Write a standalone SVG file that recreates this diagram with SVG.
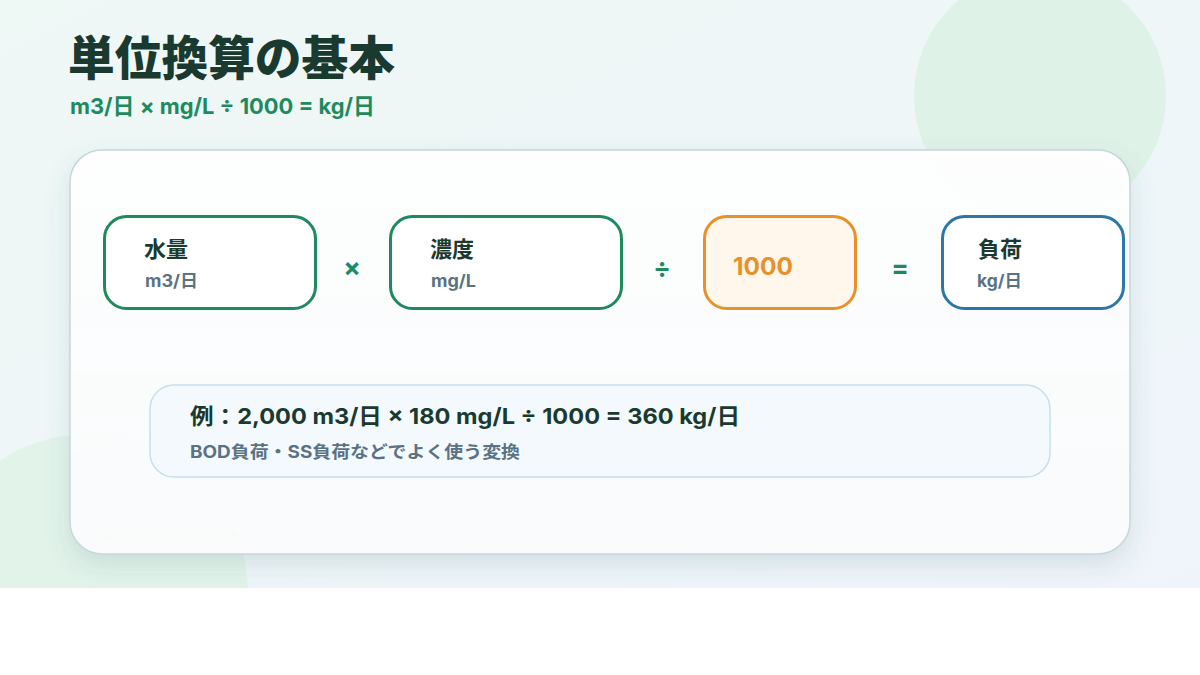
<svg xmlns="http://www.w3.org/2000/svg" width="1200" height="675" viewBox="0 0 1200 675">
<defs>
<linearGradient id="bg" x1="0" y1="0" x2="1" y2="1">
<stop offset="0" stop-color="#eef8f5"/>
<stop offset="1" stop-color="#eff4fb"/>
</linearGradient>
<linearGradient id="card" x1="0" y1="0" x2="0" y2="1">
<stop offset="0" stop-color="#ffffff" stop-opacity="0.94"/>
<stop offset="1" stop-color="#fafcfd" stop-opacity="0.96"/>
</linearGradient>
<filter id="sh" x="-10%" y="-10%" width="120%" height="130%">
<feDropShadow dx="0" dy="10" stdDeviation="12" flood-color="#3a6a70" flood-opacity="0.16"/>
</filter>
<clipPath id="bgclip"><rect x="0" y="0" width="1200" height="588"/></clipPath>
</defs>
<style>
text{font-family:Inter,"Noto Sans CJK JP",sans-serif;font-weight:700}
.t{fill:#1a3a30;font-size:22px}
.s{fill:#5a7384;font-size:17px}
.op{fill:#1e8a5e;font-size:26px;text-anchor:middle}
.g{fill:#ffffff;stroke:#1e8a5e;stroke-width:3}
</style>
<g clip-path="url(#bgclip)">
<rect x="0" y="0" width="1200" height="588" fill="url(#bg)"/>
<circle cx="1040" cy="96" r="126" fill="#dff2e8"/>
<circle cx="88" cy="594" r="160" fill="#e2f3ea"/>
</g>
<text x="68" y="75" fill="#1a3a30" style="font-size:47px;font-weight:900" textLength="327" lengthAdjust="spacingAndGlyphs">単位換算の基本</text>
<text x="70" y="114" fill="#1e8a5e" style="font-size:22px" textLength="305" lengthAdjust="spacingAndGlyphs">m3/日 × mg/L ÷ 1000 = kg/日</text>
<rect x="70" y="150" width="1060" height="404" rx="32" fill="url(#card)" stroke="#c6d6da" stroke-width="1.5" filter="url(#sh)"/>
<g id="water">
<rect class="g" x="104.5" y="216.5" width="211" height="92" rx="22"/>
<text class="t" x="144" y="257">水量</text>
<text class="s" x="145" y="287" textLength="53" lengthAdjust="spacingAndGlyphs">m3/日</text>
</g>
<g id="conc">
<rect class="g" x="390.5" y="216.5" width="231" height="92" rx="22"/>
<text class="t" x="430" y="257">濃度</text>
<text class="s" x="431" y="287" textLength="45" lengthAdjust="spacingAndGlyphs">mg/L</text>
</g>
<g id="thousand">
<rect x="704.5" y="216.5" width="151" height="92" rx="22" fill="#fff7ec" stroke="#e8912a" stroke-width="3"/>
<text x="733" y="275" fill="#e8912a" style="font-size:24px" textLength="60" lengthAdjust="spacingAndGlyphs">1000</text>
</g>
<g id="load">
<rect x="942.5" y="216.5" width="181" height="92" rx="22" fill="#ffffff" stroke="#2a77a8" stroke-width="3"/>
<text class="t" x="978" y="257">負荷</text>
<text class="s" x="977" y="287" textLength="45" lengthAdjust="spacingAndGlyphs">kg/日</text>
</g>
<g id="connectors">
<text class="op" x="352" y="277">×</text>
<text class="op" x="662" y="277">÷</text>
<text class="op" x="900" y="277">=</text>
</g>
<g id="example">
<rect x="150" y="385" width="900" height="92" rx="24" fill="#f3f9fd" stroke="#c5e0ec" stroke-width="1.5"/>
<text class="t" x="190" y="424" textLength="550" lengthAdjust="spacingAndGlyphs">例：2,000 m3/日 × 180 mg/L ÷ 1000 = 360 kg/日</text>
<text class="s" x="190" y="458" textLength="330" lengthAdjust="spacingAndGlyphs">BOD負荷・SS負荷などでよく使う変換</text>
</g>
</svg>
